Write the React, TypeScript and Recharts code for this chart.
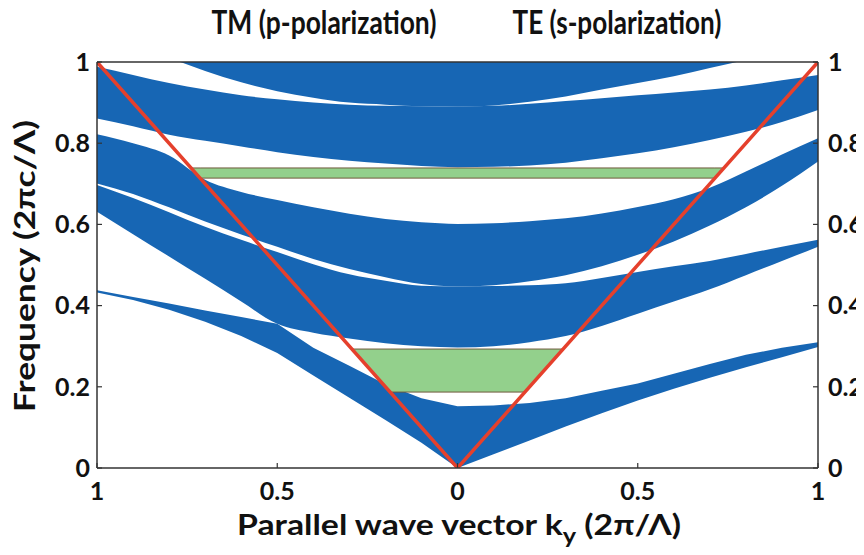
import React from 'react'
import { ComposedChart, Area, Line, XAxis, YAxis, ReferenceLine } from 'recharts'

// |k_y| samples (2π/Λ); left half of the plot is TM, right half is TE
const kSteps = [0, 0.1, 0.2, 0.3, 0.4, 0.5, 0.6, 0.7, 0.8, 0.9, 1]

// TM (p-polarization) band edges, frequency in 2πc/Λ
const tm1Low = [0, 0.062, 0.118, 0.173, 0.228, 0.283, 0.325, 0.36, 0.39, 0.414, 0.432]
const tm1High = [0.152, 0.172, 0.206, 0.252, 0.296, 0.355, 0.372, 0.388, 0.405, 0.421, 0.438]
const tm2Low = [0.297, 0.3, 0.307, 0.319, 0.333, 0.355, 0.41, 0.466, 0.521, 0.576, 0.631]
const tm2High = [0.447, 0.449, 0.461, 0.477, 0.502, 0.532, 0.562, 0.594, 0.63, 0.665, 0.697]
const tm3Low = [0.447, 0.453, 0.47, 0.49, 0.515, 0.545, 0.575, 0.607, 0.642, 0.675, 0.701]
const tm3High = [0.601, 0.605, 0.613, 0.626, 0.642, 0.66, 0.68, 0.71, 0.77, 0.8, 0.822]
const tm4Low = [0.741, 0.744, 0.75, 0.757, 0.766, 0.778, 0.792, 0.806, 0.821, 0.842, 0.861]
const tm4High = [0.89, 0.891, 0.892, 0.895, 0.9, 0.908, 0.918, 0.932, 0.948, 0.968, 0.988]
const tm5Low = [0.89, 0.891, 0.895, 0.9, 0.912, 0.928, 0.95, 0.978, 1.01, 1.04, 1.08]
const tm5High = [1.1, 1.1, 1.1, 1.1, 1.1, 1.1, 1.1, 1.1, 1.1, 1.1, 1.1]

// TE (s-polarization) band edges
const te1Low = [0, 0.034, 0.068, 0.102, 0.135, 0.166, 0.195, 0.222, 0.248, 0.273, 0.298]
const te1High = [0.152, 0.154, 0.16, 0.172, 0.19, 0.208, 0.232, 0.256, 0.279, 0.296, 0.31]
const te2Low = [0.297, 0.3, 0.31, 0.325, 0.35, 0.38, 0.41, 0.44, 0.475, 0.51, 0.545]
const te2High = [0.447, 0.448, 0.45, 0.455, 0.468, 0.483, 0.497, 0.51, 0.527, 0.545, 0.562]
const te3Low = [0.447, 0.45, 0.46, 0.475, 0.497, 0.525, 0.558, 0.597, 0.642, 0.695, 0.755]
const te3High = [0.601, 0.603, 0.608, 0.615, 0.627, 0.643, 0.662, 0.69, 0.73, 0.772, 0.812]
const te4Low = [0.741, 0.742, 0.745, 0.752, 0.763, 0.775, 0.79, 0.808, 0.828, 0.852, 0.882]
const te4High = [0.89, 0.892, 0.897, 0.904, 0.911, 0.918, 0.925, 0.932, 0.942, 0.955, 0.968]
const te5Low = [0.89, 0.893, 0.902, 0.915, 0.932, 0.948, 0.965, 0.985, 1.005, 1.025, 1.045]
const te5High = [1.1, 1.1, 1.1, 1.1, 1.1, 1.1, 1.1, 1.1, 1.1, 1.1, 1.1]

// omnidirectional gaps (green), bounded at the sides by the light line
const gapBottoms = [0.187, 0.714]
const gapTops = [0.293, 0.739]

// light line
const lightK = [-1, 0, 1]
const lightF = [1, 0, 1]

const xTicks = [-1, -0.5, 0, 0.5, 1]
const yTicks = [0, 0.2, 0.4, 0.6, 0.8, 1]

const tmBands = [
  [tm1Low, tm1High],
  [tm2Low, tm2High],
  [tm3Low, tm3High],
  [tm4Low, tm4High],
  [tm5Low, tm5High],
]
const teBands = [
  [te1Low, te1High],
  [te2Low, te2High],
  [te3Low, te3High],
  [te4Low, te4High],
  [te5Low, te5High],
]

// one row per k: TM mirrored to negative k, TE on positive k
const bandData: any[] = []
for (let i = kSteps.length - 1; i >= 0; i--) {
  const row: any = { k: i === 0 ? 0 : -kSteps[i] }
  tmBands.forEach(([lo, hi], b) => {
    row['b' + b] = [lo[i], hi[i]]
  })
  bandData.push(row)
}
for (let i = 1; i < kSteps.length; i++) {
  const row: any = { k: kSteps[i] }
  teBands.forEach(([lo, hi], b) => {
    row['b' + b] = [lo[i], hi[i]]
  })
  bandData.push(row)
}

const gapData = gapBottoms.map((lo, g) => {
  const hi = gapTops[g]
  return [
    { k: -hi, r: [hi, hi] },
    { k: -lo, r: [lo, hi] },
    { k: lo, r: [lo, hi] },
    { k: hi, r: [hi, hi] },
  ]
})

const lightData = lightK.map((k, i) => ({ k, f: lightF[i] }))

const blue = '#1766b4'
const red = '#e5402c'
const green = '#93d08c'
const axisColor = '#333'
const font = 'Lato, "Open Sans", sans-serif'
const tickStyle = { fontSize: 25, fontWeight: 700, fill: '#111', fontFamily: font }
const axisLine = { stroke: axisColor, strokeWidth: 1.5 }
const tickLine = { stroke: axisColor, strokeWidth: 1.2 }

export default function App() {
  return (
    <div style={{ position: 'relative', width: 856, height: 540 }}>
      <ComposedChart
        width={856}
        height={540}
        data={bandData}
        margin={{ top: 54, right: 0, bottom: 0, left: 0 }}
      >
        <XAxis
          type="number"
          dataKey="k"
          domain={[-1, 1]}
          ticks={xTicks}
          allowDataOverflow
          tickFormatter={(v) => String(Math.abs(v))}
          tick={tickStyle}
          tickLine={tickLine}
          tickSize={-5}
          tickMargin={19}
          height={80}
          axisLine={axisLine}
        />
        <YAxis
          yAxisId="left"
          domain={[0, 1]}
          ticks={yTicks}
          allowDataOverflow
          tick={tickStyle}
          tickLine={tickLine}
          tickSize={-5}
          tickMargin={12}
          width={89}
          axisLine={axisLine}
        />
        <YAxis
          yAxisId="right"
          orientation="right"
          domain={[0, 1]}
          ticks={yTicks}
          allowDataOverflow
          tick={{ ...tickStyle, textAnchor: 'start' }}
          tickLine={tickLine}
          tickSize={-5}
          tickMargin={15}
          width={46}
          axisLine={axisLine}
        />
        {tmBands.map((_, b) => (
          <Area
            key={'band' + b}
            yAxisId="left"
            type={b === 0 ? 'linear' : 'monotone'}
            dataKey={'b' + b}
            fill={blue}
            fillOpacity={1}
            stroke="none"
            isAnimationActive={false}
          />
        ))}
        {gapData.map((d, g) => (
          <Area
            key={'gap' + g}
            yAxisId="left"
            data={d}
            type="linear"
            dataKey="r"
            fill={green}
            fillOpacity={1}
            stroke="#6f5a3c"
            strokeWidth={1}
            isAnimationActive={false}
          />
        ))}
        <Line
          yAxisId="left"
          data={lightData}
          type="linear"
          dataKey="f"
          stroke={red}
          strokeWidth={3.5}
          dot={false}
          isAnimationActive={false}
        />
        <ReferenceLine yAxisId="left" y={1} stroke={axisColor} strokeWidth={1.5} />
      </ComposedChart>
      {/* titles and axis labels, in page coordinates */}
      <svg
        width={864}
        height={555}
        style={{ position: 'absolute', left: -8, top: -8, pointerEvents: 'none' }}
        fontFamily={font}
        fontWeight={700}
        fill="#111"
      >
        <text x={324} y={34} fontSize={32} textAnchor="middle" textLength={225} lengthAdjust="spacingAndGlyphs">
          TM (p-polarization)
        </text>
        <text x={617} y={34} fontSize={32} textAnchor="middle" textLength={209} lengthAdjust="spacingAndGlyphs">
          TE (s-polarization)
        </text>
        <text x={459} y={535} fontSize={28} textAnchor="middle" textLength={444} lengthAdjust="spacingAndGlyphs">
          Parallel wave vector k
          <tspan dy={8} fontSize={21}>y</tspan>
          <tspan dy={-8}> (2π/Λ)</tspan>
        </text>
        <text
          transform="translate(35, 266) rotate(-90)"
          fontSize={28}
          textAnchor="middle"
          textLength={292}
          lengthAdjust="spacingAndGlyphs"
        >
          Frequency (2πc/Λ)
        </text>
      </svg>
    </div>
  )
}
